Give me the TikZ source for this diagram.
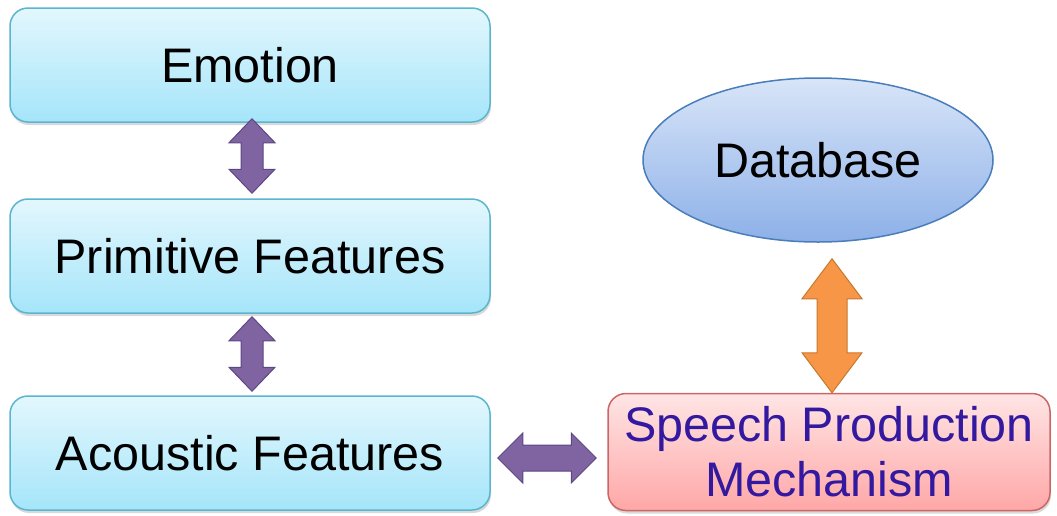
\documentclass[tikz,border=0pt]{standalone}
\usepackage{fontspec}
\setmainfont{Liberation Sans}
\usetikzlibrary{shapes,arrows,calc,shadows}

\definecolor{boxtop}{HTML}{E3F7FD}
\definecolor{boxbot}{HTML}{A5E5FA}
\definecolor{boxline}{HTML}{5BB5CE}
\definecolor{redtop}{HTML}{FFE5E5}
\definecolor{redbot}{HTML}{FFA7A7}
\definecolor{redline}{HTML}{CC6666}
\definecolor{dbtop}{HTML}{D8E5F8}
\definecolor{dbbot}{HTML}{8DB0E8}
\definecolor{dbline}{HTML}{4A7EBB}
\definecolor{mechtext}{HTML}{3319A0}
\definecolor{arrpurple}{HTML}{8064A2}
\definecolor{arrpurpleline}{HTML}{5C4785}
\definecolor{arrorange}{HTML}{F79646}
\definecolor{arrorangeline}{HTML}{C7782F}

% fat double arrows: style, first tip, second tip, shaft half, head half, head length
\newcommand{\vfat}[6]{%
  \draw[#1] let \p1=#2, \p2=#3 in
    (\x1,\y1) -- (\x1+#5,\y1-#6) -- (\x1+#4,\y1-#6) -- (\x1+#4,\y2+#6) -- (\x1+#5,\y2+#6)
    -- (\x1,\y2) -- (\x1-#5,\y2+#6) -- (\x1-#4,\y2+#6) -- (\x1-#4,\y1-#6) -- (\x1-#5,\y1-#6) -- cycle;}
\newcommand{\hfat}[6]{%
  \draw[#1] let \p1=#2, \p2=#3 in
    (\x1,\y1) -- (\x1+#6,\y1+#5) -- (\x1+#6,\y1+#4) -- (\x2-#6,\y1+#4) -- (\x2-#6,\y1+#5)
    -- (\x2,\y1) -- (\x2-#6,\y1-#5) -- (\x2-#6,\y1-#4) -- (\x1+#6,\y1-#4) -- (\x1+#6,\y1-#5) -- cycle;}

\begin{document}
\begin{tikzpicture}[x=1pt, y=-1pt,
    bigtext/.style={font=\fontsize{48.5}{55}\selectfont},
    shade/.style={drop shadow={shadow xshift=1pt, shadow yshift=-3pt, opacity=.3}},
    cyanbox/.style={bigtext, shade, draw=boxline, line width=1.5pt, rounded corners=18pt,
      top color=boxtop, bottom color=boxbot, minimum width=480pt, minimum height=114pt},
    redbox/.style={bigtext, shade, draw=redline, line width=1.5pt, rounded corners=18pt,
      top color=redtop, bottom color=redbot, minimum width=442pt, minimum height=117pt,
      text=mechtext, align=center, inner sep=0pt},
    dbshape/.style={bigtext, ellipse, draw=dbline, line width=1.5pt,
      top color=dbtop, bottom color=dbbot, minimum width=350pt, minimum height=164pt},
    purplefat/.style={fill=arrpurple, draw=arrpurpleline, line width=1pt},
    orangefat/.style={fill=arrorange, draw=arrorangeline, line width=1pt}]
  \useasboundingbox (0,0) rectangle (1057,515);

  \node[cyanbox] (emotion) at (250,65) {Emotion};
  \node[cyanbox] (primitive) at (250,256) {Primitive Features};
  \node[cyanbox] (acoustic) at (250,453) {Acoustic Features};
  \node[redbox] (mechanism) at (829,452) {Speech Production\\Mechanism};
  \node[dbshape] (database) at (818,160) {Database};

  \vfat{purplefat}{($(emotion.south)+(2,-4)$)}{($(primitive.north)+(2,-5)$)}{11pt}{23pt}{24pt}
  \vfat{purplefat}{($(primitive.south)+(2,3)$)}{($(acoustic.north)+(2,-4)$)}{11pt}{23pt}{24pt}
  \hfat{purplefat}{($(acoustic.east)+(7,5)$)}{($(mechanism.west)+(-11,6)$)}{13pt}{25pt}{25pt}
  \vfat{orangefat}{($(database.south)+(14,16)$)}{($(mechanism.north)+(3,0)$)}{15pt}{30pt}{40pt}
\end{tikzpicture}
\end{document}
